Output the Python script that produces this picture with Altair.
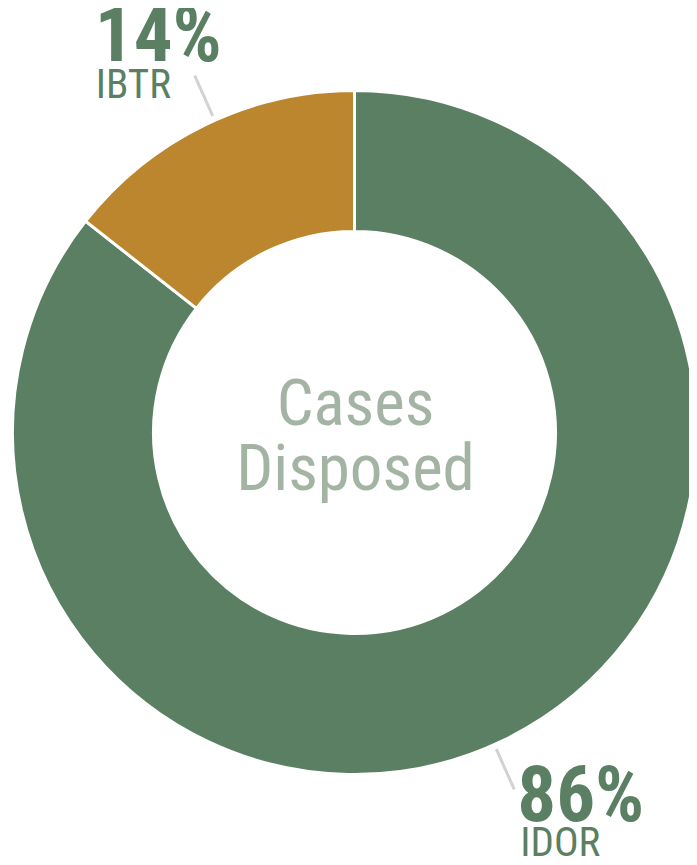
import altair as alt
import pandas as pd
import numpy as np

# ---- data ----
categories = ["IDOR", "IBTR"]
shares = [85.6, 14.4]
pct_labels = ["86%", "14%"]
center_title = ["Cases", "Disposed"]
colors = ["#5a7f62", "#bb862d"]

# ---- layout / style ----
W, H = 681, 849
CX, CY = 346.5, 424.5
R_OUT, R_IN = 342, 201
LEAD_IN, LEAD_OUT = 347, 391
LEAD_SHIFT = 1.8
FONT = "Roboto Condensed"
TEXT_GREEN = "#5a7f62"
offsets = {  # (pct dx, pct dy, name dx, name dy) relative to leader end
    "IBTR": (-100, -15, -99, 22),
    "IDOR": (3, 32, 6, 67),
}

df = pd.DataFrame({"category": categories, "share": shares,
                   "pct": pct_labels, "order": list(range(len(categories)))})
tot = df["share"].sum()
end = df["share"].cumsum() / tot * 360
start = end - df["share"] / tot * 360
rad = np.deg2rad((start + end) / 2 + LEAD_SHIFT)
df["x1"] = CX + LEAD_IN * np.sin(rad)
df["y1"] = CY - LEAD_IN * np.cos(rad)
df["x2"] = CX + LEAD_OUT * np.sin(rad)
df["y2"] = CY - LEAD_OUT * np.cos(rad)

base = alt.Chart(df)

donut = base.mark_arc(outerRadius=R_OUT, innerRadius=R_IN, stroke="white",
                      strokeWidth=3).encode(
    theta=alt.Theta("share:Q", stack=True),
    order=alt.Order("order:Q"),
    color=alt.Color("category:N", scale=alt.Scale(domain=categories, range=colors),
                    legend=None),
    x=alt.value(CX), y=alt.value(CY),
)

leaders = base.mark_rule(color="#d2d2d2", strokeWidth=3).encode(
    x=alt.X("x1:Q", scale=None, axis=None),
    y=alt.Y("y1:Q", scale=None, axis=None),
    x2="x2:Q", y2="y2:Q",
)

layers = [donut, leaders]
for cat in categories:
    pdx, pdy, ndx, ndy = offsets[cat]
    sub = base.transform_filter(alt.datum.category == cat)
    layers.append(sub.mark_text(font=FONT, fontSize=77, fontWeight="bold",
                                color=TEXT_GREEN, align="left", baseline="alphabetic",
                                dx=pdx, dy=pdy).encode(
        x=alt.X("x2:Q", scale=None, axis=None),
        y=alt.Y("y2:Q", scale=None, axis=None),
        text="pct:N"))
    layers.append(sub.mark_text(font=FONT, fontSize=41, color=TEXT_GREEN,
                                align="left", baseline="alphabetic",
                                dx=ndx, dy=ndy).encode(
        x=alt.X("x2:Q", scale=None, axis=None),
        y=alt.Y("y2:Q", scale=None, axis=None),
        text="category:N"))

center = alt.Chart(pd.DataFrame({"title": ["\n".join(center_title)]})).mark_text(
    font=FONT, fontSize=65, color="#a4b4a4", align="center", baseline="alphabetic",
    lineBreak="\n", lineHeight=65).encode(
    x=alt.value(CX + 1), y=alt.value(417), text="title:N")
layers.append(center)

chart = alt.layer(*layers).properties(
    width=W, height=H, padding=0,
    autosize=alt.AutoSizeParams(type="none"),
).configure_view(stroke=None)

chart.save("out.html", embed_options={"renderer": "svg", "actions": False})
